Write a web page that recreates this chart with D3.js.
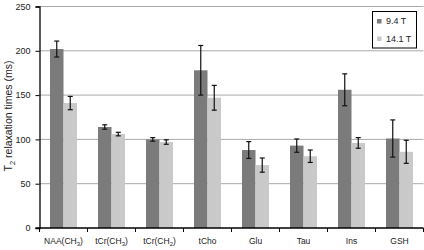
<!DOCTYPE html>
<html>
<head>
  <script src="https://d3js.org/d3.v7.min.js"></script>
  <style>
    body { margin: 0; background: #fff; }
    text { font-family: "Liberation Sans", Arial, sans-serif; }
  </style>
</head>
<body>
  <svg id="chart" width="424" height="250"></svg>
  <script>
    // metabolite names: [main, subscript, closing]
    const metabolites = [
      ["NAA(CH", "3", ")"], ["tCr(CH", "3", ")"], ["tCr(CH", "2", ")"], ["tCho", "", ""],
      ["Glu", "", ""], ["Tau", "", ""], ["Ins", "", ""], ["GSH", "", ""]
    ];
    const fields = ["9.4 T", "14.1 T"];
    const t2At94 = [202, 114, 100, 178, 88, 93, 156, 101];
    const sd94 = [9, 2.5, 2, 28, 9.5, 7.5, 18, 21];
    const t2At141 = [141, 106, 97, 147, 71, 81, 96, 86];
    const sd141 = [7.5, 2, 2.5, 14, 8, 7, 6, 13];
    const yTicks = [0, 50, 100, 150, 200, 250];

    const svg = d3.select("#chart");
    const plotLeft = 39.5, plotRight = 423.5, plotTop = 6.5, plotBottom = 228;
    const colors = ["#7b7b7b", "#c9c9c9"];

    const x0 = d3.scaleBand().domain(d3.range(metabolites.length)).range([plotLeft, plotRight]).paddingInner(0).paddingOuter(0);
    const x1 = d3.scaleBand().domain(fields).range([10.5, 37.5]);
    const y = d3.scaleLinear().domain([0, 250]).range([plotBottom, plotTop]);

    // gridlines
    svg.append("g").selectAll("line").data(yTicks.slice(1)).join("line")
      .attr("x1", plotLeft).attr("x2", plotRight)
      .attr("y1", d => y(d)).attr("y2", d => y(d))
      .attr("stroke", "#aaa").attr("stroke-width", 1);

    const rows = metabolites.map((m, i) => [
      { i, f: fields[0], v: t2At94[i], e: sd94[i] },
      { i, f: fields[1], v: t2At141[i], e: sd141[i] }
    ]).flat();

    svg.append("g").selectAll("rect").data(rows).join("rect")
      .attr("x", d => x0(d.i) + x1(d.f))
      .attr("width", x1.bandwidth())
      .attr("y", d => y(d.v))
      .attr("height", d => y(0) - y(d.v))
      .attr("fill", d => colors[fields.indexOf(d.f)]);

    // error bars
    const err = svg.append("g").selectAll("g").data(rows).join("g")
      .attr("stroke", "#111").attr("stroke-width", 1.2);
    const cx = d => x0(d.i) + x1(d.f) + x1.bandwidth() / 2;
    err.append("line").attr("x1", cx).attr("x2", cx)
      .attr("y1", d => y(d.v + d.e)).attr("y2", d => y(d.v - d.e));
    err.append("line").attr("x1", d => cx(d) - 2.5).attr("x2", d => cx(d) + 2.5)
      .attr("y1", d => y(d.v + d.e)).attr("y2", d => y(d.v + d.e));
    err.append("line").attr("x1", d => cx(d) - 2.5).attr("x2", d => cx(d) + 2.5)
      .attr("y1", d => y(d.v - d.e)).attr("y2", d => y(d.v - d.e));

    // y axis
    const yAxis = svg.append("g").attr("transform", `translate(${plotLeft},0)`)
      .call(d3.axisLeft(y).tickValues(yTicks).tickSize(4).tickPadding(5));
    yAxis.select(".domain").attr("stroke", "#000").attr("stroke-width", 1.3);
    yAxis.selectAll("text").attr("font-size", 9).attr("fill", "#222");

    // x axis with ticks at category boundaries
    const xg = svg.append("g");
    xg.append("line").attr("x1", plotLeft - 4).attr("x2", plotRight).attr("y1", plotBottom).attr("y2", plotBottom)
      .attr("stroke", "#000").attr("stroke-width", 1.3);
    xg.selectAll(".bt").data(d3.range(metabolites.length + 1)).join("line")
      .attr("x1", d => plotLeft + d * x0.step()).attr("x2", d => plotLeft + d * x0.step())
      .attr("y1", plotBottom).attr("y2", plotBottom + 4)
      .attr("stroke", "#000").attr("stroke-width", 1);
    const lbl = xg.selectAll(".lb").data(metabolites).join("text")
      .attr("x", (d, i) => x0(i) + x0.bandwidth() / 2)
      .attr("y", 244)
      .attr("text-anchor", "middle")
      .attr("font-size", 8.5).attr("fill", "#222");
    lbl.append("tspan").text(d => d[0]);
    lbl.append("tspan").attr("font-size", 6).attr("dy", 2).text(d => d[1]);
    lbl.append("tspan").attr("dy", d => d[1] ? -2 : 0).text(d => d[2]);

    // y label
    const yl = svg.append("text")
      .attr("transform", "translate(12,116) rotate(-90)")
      .attr("text-anchor", "middle").attr("font-size", 10.5).attr("fill", "#222");
    yl.append("tspan").text("T");
    yl.append("tspan").attr("font-size", 7.5).attr("dy", 2.5).text("2");
    yl.append("tspan").attr("dy", -2.5).text(" relaxation times (ms)");

    // legend
    const lg = svg.append("g");
    lg.append("rect").attr("x", 372.5).attr("y", 11.5).attr("width", 44).attr("height", 36.5)
      .attr("fill", "#fff").attr("stroke", "#000").attr("stroke-width", 1);
    fields.forEach((f, i) => {
      lg.append("rect").attr("x", 377).attr("y", 19 + i * 17.5).attr("width", 4.5).attr("height", 4.5)
        .attr("fill", colors[i]);
      lg.append("text").attr("x", 386).attr("y", 24 + i * 17.5)
        .attr("font-size", 9).attr("fill", "#222").text(f);
    });
  </script>
</body>
</html>
